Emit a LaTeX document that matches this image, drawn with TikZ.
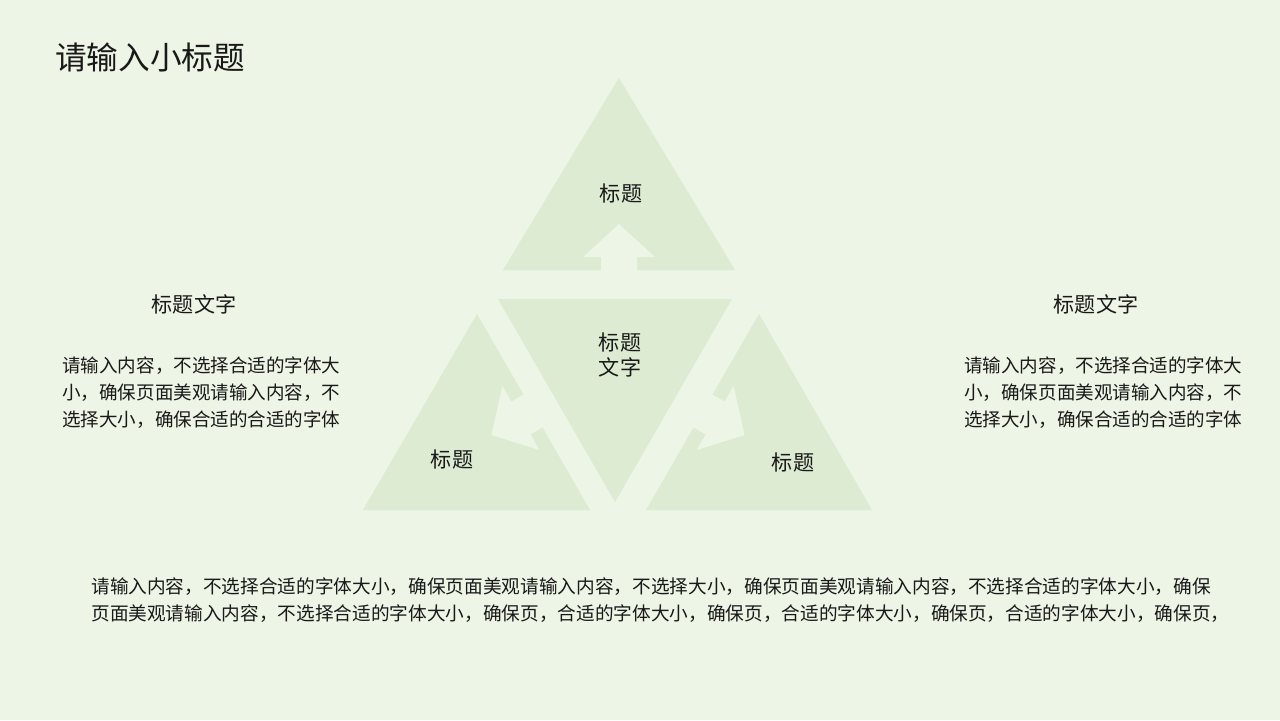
\documentclass[tikz,border=0pt]{standalone}
\usepackage{fontspec}
\setmainfont{Noto Sans CJK SC}
\usepackage{tikz}
\definecolor{fond}{RGB}{237,245,230}
\definecolor{tri}{RGB}{220,235,210}
\definecolor{encre}{RGB}{25,25,25}

\begin{document}
\begin{tikzpicture}[x=0.02cm, y=-0.02cm,
    texte/.style={text=encre, inner sep=0pt, align=left, font=\fontsize{10.55}{15.3}\selectfont},
    etiq/.style={text=encre, inner sep=0pt, align=center, font=\fontsize{12}{14.2}\selectfont}]
    % Fond vert clair
    \fill[fond] (0,0) rectangle (1280,720);
    \useasboundingbox (0,0) rectangle (1280,720);

    % Titre
    \node[anchor=west, inner sep=0pt, text=encre, font=\fontsize{18}{20}\selectfont] (titre) at (55,57) {请输入小标题};

    % Quatre triangles
    \fill[tri] (619,78) -- (735,270) -- (503,270) -- cycle;
    \fill[tri] (498,299) -- (732,299) -- (615,502) -- cycle;
    \fill[tri] (477,314) -- (590,510) -- (363,510) -- cycle;
    \fill[tri] (759,314) -- (872,510) -- (646,510) -- cycle;

    % Flèches découpées (couleur du fond)
    \begin{scope}[shift={(619,270)}]
        \fill[fond] (-18,3) -- (-18,-13) -- (-36,-13) -- (0,-46) -- (36,-13) -- (18,-13) -- (18,3) -- cycle;
    \end{scope}
    \begin{scope}[shift={(533,411)}, rotate=120]
        \fill[fond] (-19,3) -- (-19,-14) -- (-37,-14) -- (0,-48) -- (37,-14) -- (19,-14) -- (19,3) -- cycle;
    \end{scope}
    \begin{scope}[shift={(703,411)}, rotate=-120]
        \fill[fond] (-19,3) -- (-19,-14) -- (-37,-14) -- (0,-48) -- (37,-14) -- (19,-14) -- (19,3) -- cycle;
    \end{scope}

    % Etiquettes des triangles
    \node[etiq] (haut) at (621,193) {标题};
    \node[etiq] (centre) at (620,355) {标题\\文字};
    \node[etiq] (gauche) at (452,459) {标题};
    \node[etiq] (droite) at (793,462) {标题};

    % Blocs de texte lateraux
    \node[etiq] (titreG) at (194,304) {标题文字};
    \node[texte, anchor=west] (texteG) at (62,393) {请输入内容，不选择合适的字体大\\小，确保页面美观请输入内容，不\\选择大小，确保合适的合适的字体};
    \node[etiq] (titreD) at (1096,304) {标题文字};
    \node[texte, anchor=west] (texteD) at (964,393) {请输入内容，不选择合适的字体大\\小，确保页面美观请输入内容，不\\选择大小，确保合适的合适的字体};

    % Paragraphe du bas
    \node[texte, anchor=west, font=\fontsize{10.62}{15.3}\selectfont] (bas) at (91,600.5) {请输入内容，不选择合适的字体大小，确保页面美观请输入内容，不选择大小，确保页面美观请输入内容，不选择合适的字体大小，确保\\页面美观请输入内容，不选择合适的字体大小，确保页，合适的字体大小，确保页，合适的字体大小，确保页，合适的字体大小，确保页，};
\end{tikzpicture}
\end{document}
